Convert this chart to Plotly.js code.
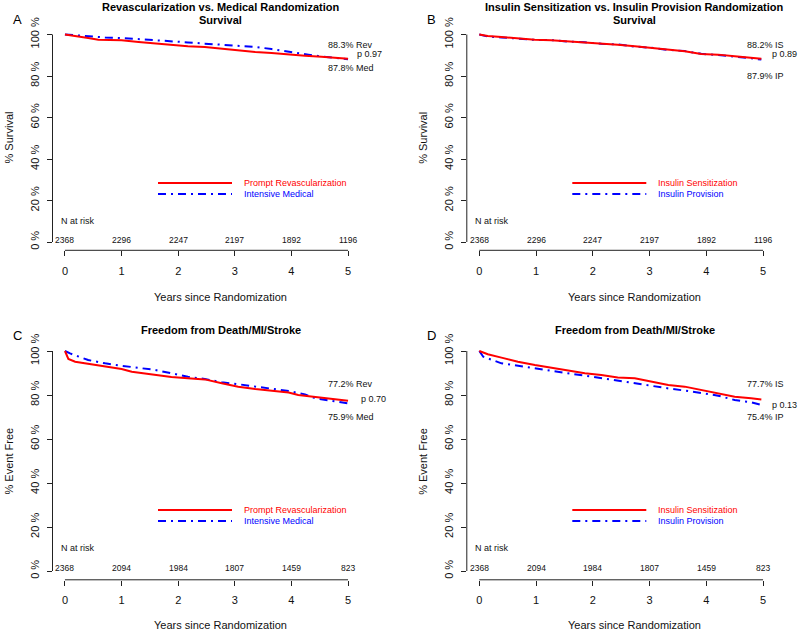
<!DOCTYPE html>
<html>
<head>
<meta charset="utf-8">
<script src="https://cdn.plot.ly/plotly-3.0.1.min.js"></script>
<style>html,body{margin:0;padding:0;background:#fff;}#chart{width:800px;height:632px;}</style>
</head>
<body>
<div id="chart"></div>
<script>
// ---------- DATA ----------
// Panel A: Survival, Revascularization vs Medical
const survRevT = [0, 0.18, 0.41, 0.59, 1.0, 1.30, 1.59, 1.88, 2.17, 2.47, 2.77, 3.06, 3.36, 3.65, 3.95, 4.24, 4.53, 4.83, 5.0];
const survRevY = [100, 99.1, 98.3, 97.5, 97.2, 96.4, 95.6, 95.1, 94.3, 94.0, 93.2, 92.2, 91.6, 91.1, 90.3, 89.8, 89.3, 88.7, 88.3];
const survMedT = [0, 0.41, 0.71, 1.0, 1.30, 1.59, 1.88, 2.17, 2.47, 2.77, 3.06, 3.36, 3.65, 3.95, 4.30, 4.53, 5.0];
const survMedY = [100, 99.1, 98.6, 98.3, 97.8, 97.5, 97.0, 96.2, 95.6, 95.1, 94.6, 94.0, 93.0, 91.9, 90.3, 89.4, 88.1];
// Panel B: Survival, Insulin Sensitization vs Insulin Provision
const survIST = [0, 0.15, 0.39, 0.68, 0.98, 1.27, 1.56, 1.86, 2.15, 2.44, 2.74, 3.03, 3.33, 3.62, 3.91, 4.21, 4.50, 4.79, 4.97];
const survISY = [100, 99.3, 98.8, 98.0, 97.5, 97.2, 96.7, 96.2, 95.6, 95.1, 94.3, 93.5, 92.7, 91.9, 90.6, 90.3, 89.5, 88.7, 88.3];
const survIPT = [0, 0.15, 0.39, 0.68, 0.98, 1.27, 1.56, 1.86, 2.15, 2.44, 2.74, 3.03, 3.33, 3.62, 3.91, 4.21, 4.50, 4.79, 4.97];
const survIPY = [100, 99.0, 98.6, 98.1, 97.4, 97.3, 96.6, 96.3, 95.5, 95.2, 94.2, 93.6, 92.6, 92.0, 90.7, 90.1, 89.4, 88.5, 87.9];
// Panel C: Freedom from Death/MI/Stroke, Revascularization vs Medical
const efRevT = [0, 0.03, 0.06, 0.18, 0.41, 0.71, 1.0, 1.18, 1.59, 1.88, 2.17, 2.47, 2.77, 3.06, 3.36, 3.65, 3.95, 4.12, 4.42, 4.71, 5.0];
const efRevY = [100, 98.3, 96.4, 95.1, 94.1, 92.9, 91.8, 90.6, 89.1, 88.2, 87.6, 87.1, 85.3, 83.8, 82.7, 82.0, 81.1, 80.0, 79.2, 78.5, 77.4];
const efMedT = [0, 0.09, 0.41, 0.71, 1.0, 1.30, 1.59, 1.88, 2.17, 2.47, 2.77, 3.06, 3.36, 3.65, 3.95, 4.24, 4.42, 4.71, 5.0];
const efMedY = [100, 98.9, 95.9, 94.4, 93.3, 92.4, 91.4, 89.9, 88.3, 87.3, 85.8, 84.9, 83.8, 83.0, 81.8, 80.3, 78.5, 77.3, 76.2];
// Panel D: Freedom from Death/MI/Stroke, Insulin Sensitization vs Insulin Provision
const efIST = [0, 0.15, 0.39, 0.68, 0.98, 1.27, 1.56, 1.86, 2.15, 2.44, 2.74, 3.03, 3.33, 3.62, 3.91, 4.21, 4.50, 4.79, 4.97];
const efISY = [100, 98.5, 97.0, 95.1, 93.6, 92.4, 90.9, 89.9, 89.1, 88.0, 87.6, 86.1, 84.5, 83.8, 82.3, 80.8, 79.2, 78.5, 78.0];
const efIPT = [0, 0.07, 0.39, 0.68, 0.98, 1.27, 1.56, 1.86, 2.15, 2.44, 2.74, 3.03, 3.33, 3.62, 3.91, 4.21, 4.50, 4.79, 4.97];
const efIPY = [100, 97.4, 94.4, 93.2, 92.1, 91.1, 89.9, 88.8, 87.6, 86.5, 85.3, 84.2, 83.0, 82.0, 80.8, 79.7, 77.7, 76.7, 75.5];

// Number at risk
const atRiskYears = [0, 1, 2, 3, 4, 5];
const atRiskSurvival = [2368, 2296, 2247, 2197, 1892, 1196];
const atRiskEvent = [2368, 2094, 1984, 1807, 1459, 823];

// Tick labels
const yTickVals = [0, 20, 40, 60, 80, 100];
const yTickText = ['0 %', '20 %', '40 %', '60 %', '80 %', '100 %'];
const xTickVals = [0, 1, 2, 3, 4, 5];

// Text
const panelLetters = ['A', 'B', 'C', 'D'];
const titlesLine1 = ['Revascularization vs. Medical Randomization', 'Insulin Sensitization vs. Insulin Provision Randomization', 'Freedom from Death/MI/Stroke', 'Freedom from Death/MI/Stroke'];
const titlesLine2 = ['Survival', 'Survival', '', ''];
const yTitles = ['% Survival', '% Survival', '% Event Free', '% Event Free'];
const legendRed = ['Prompt Revascularization', 'Insulin Sensitization', 'Prompt Revascularization', 'Insulin Sensitization'];
const legendBlue = ['Intensive Medical', 'Insulin Provision', 'Intensive Medical', 'Insulin Provision'];
const endTop = ['88.3% Rev', '88.2% IS', '77.2% Rev', '77.7% IS'];
const endP = ['p 0.97', 'p 0.89', 'p 0.70', 'p 0.13'];
const endBottom = ['87.8% Med', '87.9% IP', '75.9% Med', '75.4% IP'];

// ---------- LAYOUT ----------
const W = 800, H = 632;
const FONT = 'Liberation Sans, Arial, Helvetica, sans-serif';
const RED = '#FF0000', BLUE = '#0000FF', INK = '#111';
const px = v => v / W;
const py = v => 1 - v / H;

// per-panel geometry (pixels)
const panels = [
  {xl: 52.5, xr: 388.8, xr0: 5.72, top: 26.2, bot: 250.3, ox: 0},
  {xl: 466.8, xr: 800, xr0: 5.651, top: 26.2, bot: 250.3, ox: 414.3},
  {xl: 52.5, xr: 388.8, xr0: 5.72, top: 342.2, bot: 579.8, ox: 0},
  {xl: 466.8, xr: 800, xr0: 5.651, top: 342.2, bot: 579.8, ox: 414.3}
];
const seriesRed = [[survRevT, survRevY], [survIST, survISY], [efRevT, efRevY], [efIST, efISY]];
const seriesBlue = [[survMedT, survMedY], [survIPT, survIPY], [efMedT, efMedY], [efIPT, efIPY]];
const atRisk = [atRiskSurvival, atRiskSurvival, atRiskEvent, atRiskEvent];

const traces = [];
const layout = {
  width: W, height: H,
  margin: {l: 0, r: 0, t: 0, b: 0},
  paper_bgcolor: '#fff', plot_bgcolor: '#fff',
  showlegend: false,
  font: {family: FONT, color: INK, size: 11},
  annotations: [], shapes: []
};

function ann(text, x, y, o) {
  layout.annotations.push(Object.assign({
    text: text, x: px(x), y: py(y), xref: 'paper', yref: 'paper',
    showarrow: false, xanchor: 'center', yanchor: 'middle',
    font: {family: FONT, size: 11, color: INK}
  }, o || {}));
}

panels.forEach((p, i) => {
  const n = i + 1;
  const xa = 'xaxis' + (n === 1 ? '' : n), ya = 'yaxis' + (n === 1 ? '' : n);
  const xid = 'x' + (n === 1 ? '' : n), yid = 'y' + (n === 1 ? '' : n);
  layout[xa] = {
    domain: [px(p.xl), px(p.xr)], range: [-0.22, p.xr0], anchor: yid,
    tickvals: xTickVals, ticks: 'outside', ticklen: 5, tickwidth: 1, tickcolor: '#222',
    showline: false, showgrid: false, zeroline: false, fixedrange: true,
    tickfont: {family: FONT, size: 11, color: INK}, ticklabelstandoff: 5
  };
  layout[ya] = {
    domain: [py(p.bot), py(p.top)], range: [-4, 104], anchor: xid,
    tickvals: yTickVals, ticktext: yTickText, tickangle: -90,
    ticks: 'outside', ticklen: 5, tickwidth: 1, tickcolor: '#222',
    showline: false, showgrid: false, zeroline: false, fixedrange: true,
    tickfont: {family: FONT, size: 11, color: INK}, ticklabelstandoff: 3
  };
  // axis lines spanning first to last tick (R style)
  layout.shapes.push({type: 'line', xref: xid, yref: yid + ' domain', x0: 0, x1: 5, y0: 0, y1: 0, line: {color: '#222', width: 1}});
  layout.shapes.push({type: 'line', xref: xid + ' domain', yref: yid, x0: 0, x1: 0, y0: 0, y1: 100, line: {color: '#222', width: 1}});

  // curves: blue first, red on top
  traces.push({x: seriesBlue[i][0], y: seriesBlue[i][1], xaxis: xid, yaxis: yid, type: 'scatter', mode: 'lines',
    line: {color: BLUE, width: 2, dash: '8px,5px,2px,5px'}, hoverinfo: 'skip'});
  traces.push({x: seriesRed[i][0], y: seriesRed[i][1], xaxis: xid, yaxis: yid, type: 'scatter', mode: 'lines',
    line: {color: RED, width: 2}, hoverinfo: 'skip'});

  const ox = p.ox;
  const centerX = 220.6 + ox;

  // titles
  ann('<b>' + titlesLine1[i] + '</b>', centerX, (i < 2 ? 7 : 330), {font: {family: FONT, size: 11, color: '#000'}});
  if (titlesLine2[i]) ann('<b>' + titlesLine2[i] + '</b>', centerX, 20, {font: {family: FONT, size: 11, color: '#000'}});
  // panel letter
  ann(panelLetters[i], 17.5 + ox, (i < 2 ? 19 : 335), {font: {family: FONT, size: 13, color: '#000'}});
  // x title
  ann('Years since Randomization', centerX, (i < 2 ? 297 : 625));
  // y title
  const yMidPx = i < 2 ? 138 : 461;
  ann(yTitles[i], 8.5 + ox, yMidPx, {textangle: -90});

  // legend
  const lgRed = i < 2 ? 183 : 510, lgBlue = i < 2 ? 194 : 521;
  layout.shapes.push({type: 'line', xref: 'paper', yref: 'paper', x0: px(158 + ox), x1: px(232 + ox), y0: py(lgRed), y1: py(lgRed), line: {color: RED, width: 2}});
  layout.shapes.push({type: 'line', xref: 'paper', yref: 'paper', x0: px(158 + ox), x1: px(232 + ox), y0: py(lgBlue), y1: py(lgBlue), line: {color: BLUE, width: 2, dash: '8px,5px,2px,5px'}});
  ann(legendRed[i], 242 + ox, lgRed, {xanchor: 'left', font: {family: FONT, size: 9, color: RED}});
  ann(legendBlue[i], 242 + ox, lgBlue, {xanchor: 'left', font: {family: FONT, size: 9, color: BLUE}});

  // N at risk
  ann('N at risk', 59 + ox, (i < 2 ? 221 : 548), {xanchor: 'left', font: {family: FONT, size: 9, color: INK}});
  atRiskYears.forEach((yr, k) => {
    layout.annotations.push({text: String(atRisk[i][k]), x: yr, xref: xid, y: py(i < 2 ? 240 : 568), yref: 'paper',
      showarrow: false, xanchor: 'center', yanchor: 'middle', font: {family: FONT, size: 8.5, color: INK}});
  });

  // end-of-curve labels
  const yT = i < 2 ? 45 : 384, yP = i < 2 ? 54 : (i === 2 ? 399 : 405), yB = i < 2 ? (i === 0 ? 68 : 76) : 417;
  const xL = i % 2 === 0 ? 326 : 745, xP = i % 2 === 0 ? (i === 0 ? 355 : 359) : 770;
  ann(endTop[i], xL, yT, {xanchor: 'left', font: {family: FONT, size: 9, color: INK}});
  ann(endP[i], xP, yP, {xanchor: 'left', font: {family: FONT, size: 9, color: INK}});
  ann(endBottom[i], xL, yB, {xanchor: 'left', font: {family: FONT, size: 9, color: INK}});
});

Plotly.newPlot('chart', traces, layout, {staticPlot: true, displayModeBar: false});
</script>
</body>
</html>
